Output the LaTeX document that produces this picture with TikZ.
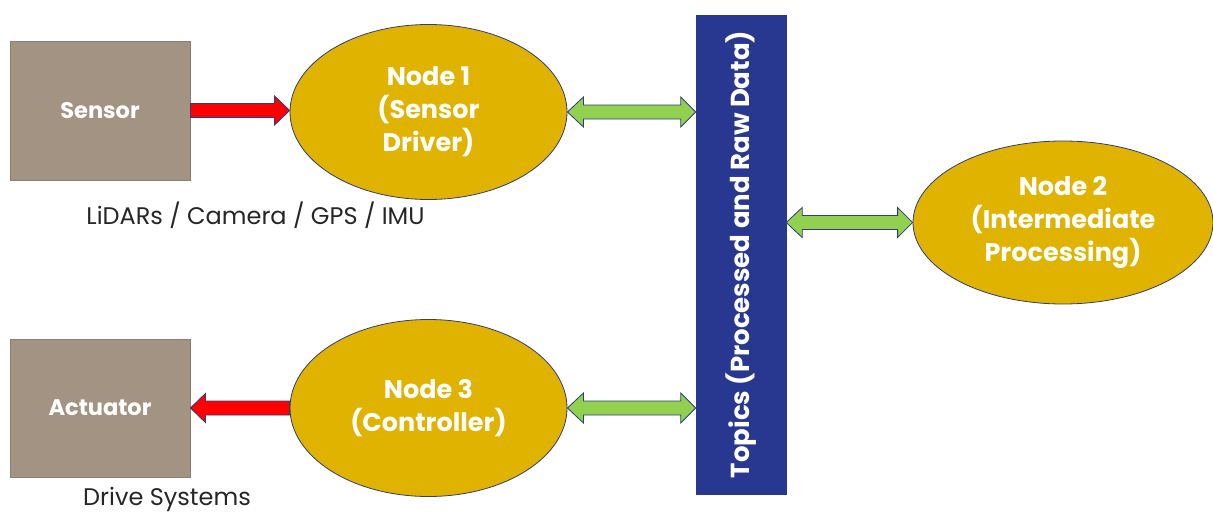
\documentclass[tikz,border=0pt]{standalone}
\usepackage{fontspec}
\setmainfont{Poppins}
\usetikzlibrary{shapes.geometric,calc}
\definecolor{boxbrown}{HTML}{A39382}
\definecolor{boxedge}{HTML}{8C7E70}
\definecolor{nodegold}{HTML}{DFB300}
\definecolor{edgeblue}{HTML}{2F3D7C}
\definecolor{topicblue}{HTML}{283890}
\definecolor{linkgreen}{HTML}{92D050}
\definecolor{flowred}{HTML}{FF0000}
\definecolor{labelgray}{HTML}{262626}
\tikzset{
  device/.style={rectangle, draw=boxedge, line width=0.8pt, fill=boxbrown,
    minimum width=180pt, minimum height=139pt, inner sep=0pt,
    text=white, font=\fontsize{22.5}{26}\selectfont\bfseries},
  rosnode/.style={ellipse, draw=edgeblue, line width=0.8pt, fill=nodegold,
    inner sep=0pt, align=center, text=white,
    font=\fontsize{25.5}{33}\selectfont\bfseries},
  topicbar/.style={rectangle, fill=topicblue, draw=topicblue,
    minimum width=90pt, minimum height=479pt, inner sep=0pt},
  caption/.style={text=labelgray, font=\fontsize{24}{28}\selectfont},
  redflow/.style={fill=flowred, draw=edgeblue, line width=0.8pt, line join=miter},
  greenlink/.style={fill=linkgreen, draw=edgeblue, line width=0.8pt, line join=miter}
}
\begin{document}
\begin{tikzpicture}[x=1pt, y=-1pt]
\useasboundingbox (0,0) rectangle (1213,514);

% hardware boxes
\node[device] (sensor) at (100,110.5) {Sensor};
\node[device, minimum height=138pt] (actuator) at (100,408) {Actuator};

% ROS nodes
\node[rosnode, minimum width=277pt, minimum height=175pt] (n1) at (428.5,112)
  {Node 1\\(Sensor\\Driver)};
\node[rosnode, minimum width=277pt, minimum height=177pt] (n3) at (428.5,408)
  {Node 3\\(Controller)};
\node[rosnode, minimum width=300pt, minimum height=163pt] (n2) at (1063,222.5)
  {Node 2\\(Intermediate\\Processing)};

% topic bus
\node[topicbar] (bar) at (741,254.5) {};
\node[rotate=90, text=white, font=\fontsize{26}{30}\selectfont\bfseries] (bartext)
  at (bar.center) {Topics (Processed and Raw Data)};

% captions
\node[caption] (sensorcap) at (255.5,215) {LiDARs / Camera / GPS / IMU};
\node[caption] (actcap) at (167,499) {Drive Systems};

% sensor -> node 1
\draw[redflow] let \p1=(sensor.east), \p2=(n1.west) in
  (\x1,\y1+7pt) -- (\x2-15pt,\y1+7pt) -- (\x2-15pt,\y1+14.5pt) -- (\x2,\y1)
  -- (\x2-15pt,\y1-14.5pt) -- (\x2-15pt,\y1-7pt) -- (\x1,\y1-7pt) -- cycle;

% node 3 -> actuator
\draw[redflow] let \p1=(n3.west), \p2=(actuator.east) in
  (\x1,\y1+7pt) -- (\x2+15pt,\y1+7pt) -- (\x2+15pt,\y1+14.5pt) -- (\x2,\y1)
  -- (\x2+15pt,\y1-14.5pt) -- (\x2+15pt,\y1-7pt) -- (\x1,\y1-7pt) -- cycle;

% node 1 <-> topics
\draw[greenlink] let \p1=(n1.east), \p2=(bar.west) in
  (\x1,\y1) -- (\x1+16pt,\y1+15pt) -- (\x1+16pt,\y1+7pt) -- (\x2-15pt,\y1+7pt)
  -- (\x2-15pt,\y1+15pt) -- (\x2,\y1) -- (\x2-15pt,\y1-15pt) -- (\x2-15pt,\y1-7pt)
  -- (\x1+16pt,\y1-7pt) -- (\x1+16pt,\y1-15pt) -- cycle;

% node 3 <-> topics
\draw[greenlink] let \p1=(n3.east), \p2=(bar.west) in
  (\x1,\y1) -- (\x1+16pt,\y1+15pt) -- (\x1+16pt,\y1+7pt) -- (\x2-15pt,\y1+7pt)
  -- (\x2-15pt,\y1+15pt) -- (\x2,\y1) -- (\x2-15pt,\y1-15pt) -- (\x2-15pt,\y1-7pt)
  -- (\x1+16pt,\y1-7pt) -- (\x1+16pt,\y1-15pt) -- cycle;

% topics <-> node 2
\draw[greenlink] let \p1=(bar.east), \p2=(n2.west) in
  (\x1,\y2) -- (\x1+16pt,\y2+15pt) -- (\x1+16pt,\y2+7pt) -- (\x2-15pt,\y2+7pt)
  -- (\x2-15pt,\y2+15pt) -- (\x2,\y2) -- (\x2-15pt,\y2-15pt) -- (\x2-15pt,\y2-7pt)
  -- (\x1+16pt,\y2-7pt) -- (\x1+16pt,\y2-15pt) -- cycle;
\end{tikzpicture}
\end{document}
